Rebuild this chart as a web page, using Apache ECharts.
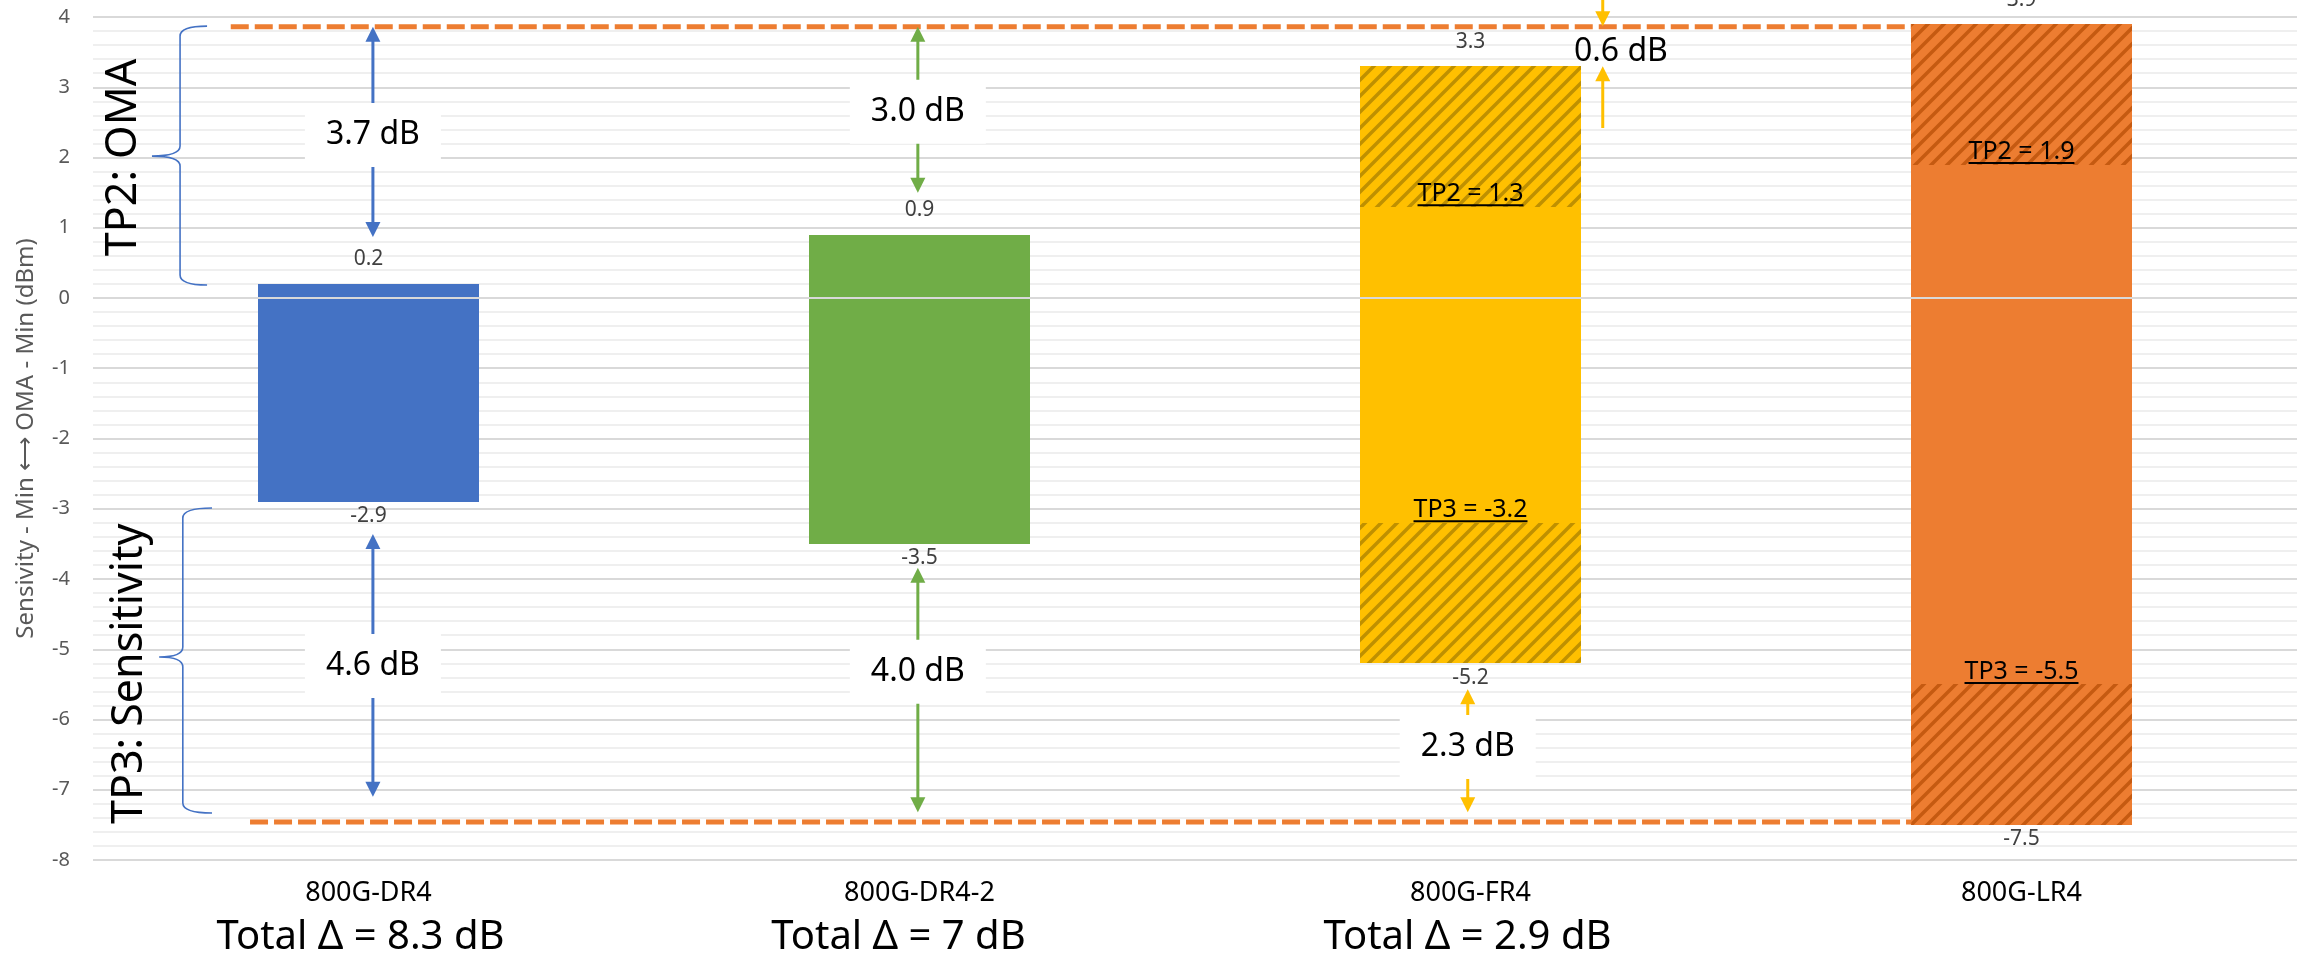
<!DOCTYPE html>
<html><head><meta charset="utf-8">
<script src="https://cdn.jsdelivr.net/npm/echarts@6/dist/echarts.min.js"></script>
<style>html,body{margin:0;padding:0;background:#fff}#c{width:2305px;height:966px}</style>
</head><body><div id="c"></div>
<script>
// ---------------- data ----------------
const categories = ['800G-DR4', '800G-DR4-2', '800G-FR4', '800G-LR4'];
const barHigh = [0.2, 0.9, 3.3, 3.9];
const barLow = [-2.9, -3.5, -5.2, -7.5];
const tp2Values = [null, null, 1.3, 1.9];
const tp3Values = [null, null, -3.2, -5.5];
const totalDelta = ['8.3', '7', '2.9', null];
const yMin = -8, yMax = 4, yInterval = 1;
// dashed reference lines: [xStart, xEnd, y]
const refLines = [[-0.25, 2.8, 3.86], [-0.215, 2.8, -7.46]];
// double-headed gap arrows: [x, topTip, bottomTip, labelY, colorIndex]
const gapArrows = [[0.008, 3.86, 0.87, 2.32, 0], [0.008, -3.36, -7.10, -5.24, 0],
                   [0.997, 3.86, 1.50, 2.65, 1], [0.997, -3.84, -7.32, -5.32, 1],
                   [1.995, -5.57, -7.32, -6.39, 2]];
const gapLabels = ['3.7 dB', '4.6 dB', '3.0 dB', '4.0 dB', '2.3 dB'];
// inward arrows: [x, outerTop, tipTop, tipBottom, outerBottom, labelX, labelY, colorIndex]
const inwardArrows = [[2.24, 4.3, 3.87, 3.30, 2.42, 2.273, 3.50, 2]];
const inwardLabels = ['0.6 dB'];
// braces: [top, bottom, mid, spineX, tipX, midX]
const braces = [[3.87, 0.185, 2.02, -0.342, -0.293, -0.393], [-2.99, -7.33, -5.11, -0.337, -0.284, -0.380]];
// side titles: [x, y]
const sideTitlePos = [[-0.445, 2.0], [-0.433, -5.35]];
const sideTitles = ['TP2: OMA', 'TP3: Sensitivity'];
const yAxisName = 'Sensivity - Min \u27F7 OMA - Min (dBm)';

// ---------------- styles ----------------
const FONT = '"Noto Sans", "Liberation Sans", sans-serif';
const barColors = ['#4472C4', '#70AD47', '#FFC000', '#ED7D31'];
const stripeColors = [null, null, '#BF9000', '#C55A11'];
const totalShift = [16, 42, 6, 0];

function hatch(bg, fg) {
  const s = 16;
  const c = document.createElement('canvas');
  c.width = s; c.height = s;
  const g = c.getContext('2d');
  g.fillStyle = bg; g.fillRect(0, 0, s, s);
  g.strokeStyle = fg; g.lineWidth = 3.5; g.beginPath();
  g.moveTo(0, s); g.lineTo(s, 0);
  g.moveTo(-s / 2, s / 2); g.lineTo(s / 2, -s / 2);
  g.moveTo(s / 2, s * 1.5); g.lineTo(s * 1.5, s / 2);
  g.stroke();
  return c;
}
const patterns = barColors.map((c, i) => stripeColors[i] ? { image: hatch(c, stripeColors[i]), repeat: 'repeat' } : null);

const mctx = document.createElement('canvas').getContext('2d');
function textWidth(t, font) { mctx.font = font; return mctx.measureText(t).width; }

// segments built from the bar data
const segments = [];
categories.forEach((c, i) => {
  if (tp2Values[i] == null) segments.push([i, barLow[i], barHigh[i], i, 0]);
  else {
    segments.push([i, barLow[i], tp3Values[i], i, 1]);
    segments.push([i, tp3Values[i], tp2Values[i], i, 0]);
    segments.push([i, tp2Values[i], barHigh[i], i, 1]);
  }
});
const valueLabelData = categories.map((c, i) => [i, barLow[i], barHigh[i]]);
const tpData = [];
categories.forEach((c, i) => { if (tp2Values[i] != null) tpData.push([i, tp2Values[i], tp3Values[i]]); });

function arrowHead(x, y, dir, color) { // dir 1 = pointing down, -1 = pointing up
  const hl = 15, hw = 7.5;
  return { type: 'polygon', shape: { points: [[x, y], [x - hw, y - dir * hl], [x + hw, y - dir * hl]] }, style: { fill: color } };
}
function vline(x, y1, y2, color) {
  return { type: 'line', shape: { x1: x, y1: y1, x2: x, y2: y2 }, style: { stroke: color, lineWidth: 3 } };
}

const chart = echarts.init(document.getElementById('c'));
chart.setOption({
  animation: false,
  backgroundColor: '#fff',
  grid: { left: 93, right: 8, top: 17, bottom: 106, containLabel: false },
  xAxis: [
    {
      type: 'category', data: categories, gridIndex: 0,
      axisLine: { show: false }, axisTick: { show: false }, splitLine: { show: false },
      axisLabel: {
        margin: 18, interval: 0,
        formatter: (v, i) => totalDelta[i] ? '{c|' + v + '}\n{t' + i + '|Total \u0394 = ' + totalDelta[i] + ' dB}' : '{c|' + v + '}',
        rich: Object.assign({ c: { fontFamily: FONT, fontSize: 27, color: '#000', lineHeight: 30 } },
          ...[0, 1, 2, 3].map(i => ({ ['t' + i]: { fontFamily: FONT, fontSize: 40, color: '#000', lineHeight: 60, padding: [0, totalShift[i], 0, 0] } })))
      }
    },
    { type: 'value', min: -0.5, max: 3.5, gridIndex: 0, show: false }
  ],
  yAxis: {
    type: 'value', min: yMin, max: yMax, interval: yInterval,
    axisLine: { show: false }, axisTick: { show: false },
    axisLabel: { fontFamily: FONT, fontSize: 20, color: '#595959', margin: 23 },
    splitLine: { show: true, lineStyle: { color: '#D9D9D9', width: 2 } },
    minorTick: { show: false, splitNumber: 5 },
    minorSplitLine: { show: true, lineStyle: { color: '#EFEFEF', width: 2 } },
    name: yAxisName, nameLocation: 'middle', nameRotate: 90, nameGap: 55,
    nameTextStyle: { fontFamily: FONT, fontSize: 24, color: '#595959' }
  },
  series: [
    { // floating bars
      type: 'custom', xAxisIndex: 1, yAxisIndex: 0, z: 2, silent: true,
      data: segments,
      renderItem: (p, api) => {
        const x = api.value(0), lo = api.value(1), hi = api.value(2), ci = api.value(3), h = api.value(4);
        const a = api.coord([x - 0.2, hi]), b = api.coord([x + 0.2, lo]);
        const x0 = Math.round(a[0]), y0 = Math.round(a[1]), x1 = Math.round(b[0]), y1 = Math.round(b[1]);
        return { type: 'rect', shape: { x: x0, y: y0, width: x1 - x0, height: y1 - y0 }, style: { fill: h ? patterns[ci] : barColors[ci] } };
      }
    },
    { // zero axis line drawn over the bars
      type: 'line', xAxisIndex: 1, yAxisIndex: 0, z: 3, silent: true, symbol: 'none',
      data: [[-0.5, 0], [3.5, 0]], lineStyle: { color: '#D9D9D9', width: 2 }
    },
    { // dashed reference lines
      type: 'custom', xAxisIndex: 1, yAxisIndex: 0, z: 3, silent: true,
      data: refLines,
      renderItem: (p, api) => {
        const a = api.coord([api.value(0), api.value(2)]), b = api.coord([api.value(1), api.value(2)]);
        return { type: 'line', shape: { x1: a[0], y1: a[1], x2: b[0], y2: b[1] }, style: { stroke: '#ED7D31', lineWidth: 5, lineDash: [18, 6] } };
      }
    },
    { // bar value labels
      type: 'custom', xAxisIndex: 1, yAxisIndex: 0, z: 4, silent: true,
      data: valueLabelData,
      renderItem: (p, api) => {
        const x = api.value(0), lo = api.value(1), hi = api.value(2);
        const t = api.coord([x, hi]), b = api.coord([x, lo]);
        const f = '21px ' + FONT;
        return { type: 'group', children: [
          { type: 'text', style: { text: hi.toFixed(1), x: t[0], y: t[1] - 14, align: 'center', verticalAlign: 'bottom', font: f, fill: '#404040' } },
          { type: 'text', style: { text: lo.toFixed(1), x: b[0], y: b[1] + 4, align: 'center', verticalAlign: 'top', font: f, fill: '#404040' } }
        ] };
      }
    },
    { // TP2 / TP3 underlined labels
      type: 'custom', xAxisIndex: 1, yAxisIndex: 0, z: 4, silent: true,
      data: tpData,
      renderItem: (p, api) => {
        const x = api.value(0), t2 = api.value(1), t3 = api.value(2);
        const f = '25px ' + FONT;
        const kids = [];
        [['TP2 = ' + t2.toFixed(1), t2], ['TP3 = ' + t3.toFixed(1), t3]].forEach(([txt, v]) => {
          const c = api.coord([x, v]);
          const w = textWidth(txt, f);
          kids.push({ type: 'text', style: { text: txt, x: c[0], y: c[1] - 13, align: 'center', verticalAlign: 'middle', font: f, fill: '#000' } });
          kids.push({ type: 'line', shape: { x1: c[0] - w / 2, y1: c[1] - 1.5, x2: c[0] + w / 2, y2: c[1] - 1.5 }, style: { stroke: '#000', lineWidth: 2 } });
        });
        return { type: 'group', children: kids };
      }
    },
    { // double headed gap arrows with boxed labels
      type: 'custom', xAxisIndex: 1, yAxisIndex: 0, z: 5, silent: true,
      data: gapArrows,
      renderItem: (p, api) => {
        const x = api.value(0), col = barColors[api.value(4)];
        const t = api.coord([x, api.value(1)]), b = api.coord([x, api.value(2)]), l = api.coord([x, api.value(3)]);
        return { type: 'group', children: [
          vline(t[0], t[1] + 12, b[1] - 12, col),
          arrowHead(t[0], t[1], -1, col),
          arrowHead(b[0], b[1], 1, col),
          { type: 'text', z2: 10, style: { text: gapLabels[p.dataIndex], x: l[0], y: l[1], align: 'center', verticalAlign: 'middle', font: '32px ' + FONT, fill: '#000', backgroundColor: '#fff', padding: [14, 21], lineHeight: 36 } }
        ] };
      }
    },
    { // inward arrows (0.6 dB)
      type: 'custom', xAxisIndex: 1, yAxisIndex: 0, z: 5, silent: true,
      data: inwardArrows,
      renderItem: (p, api) => {
        const x = api.value(0), col = barColors[api.value(7)];
        const o1 = api.coord([x, api.value(1)]), t1 = api.coord([x, api.value(2)]);
        const t2 = api.coord([x, api.value(3)]), o2 = api.coord([x, api.value(4)]);
        const l = api.coord([api.value(5), api.value(6)]);
        return { type: 'group', children: [
          vline(o1[0], o1[1], t1[1] - 12, col), arrowHead(t1[0], t1[1], 1, col),
          vline(o2[0], o2[1], t2[1] + 12, col), arrowHead(t2[0], t2[1], -1, col),
          { type: 'text', style: { text: inwardLabels[p.dataIndex], x: l[0], y: l[1], align: 'center', verticalAlign: 'middle', font: '32px ' + FONT, fill: '#000' } }
        ] };
      }
    },
    { // braces
      type: 'custom', xAxisIndex: 1, yAxisIndex: 0, z: 4, silent: true,
      data: braces,
      renderItem: (p, api) => {
        const top = api.value(0), bot = api.value(1), mid = api.value(2);
        const sx = api.coord([api.value(3), 0])[0], tx = api.coord([api.value(4), 0])[0], mx = api.coord([api.value(5), 0])[0];
        const yt = api.coord([0, top])[1], yb = api.coord([0, bot])[1], ym = api.coord([0, mid])[1];
        const r = 10;
        const d = 'M' + tx + ',' + yt + ' Q' + sx + ',' + yt + ' ' + sx + ',' + (yt + r) +
          ' L' + sx + ',' + (ym - r) + ' Q' + sx + ',' + ym + ' ' + mx + ',' + ym +
          ' Q' + sx + ',' + ym + ' ' + sx + ',' + (ym + r) +
          ' L' + sx + ',' + (yb - r) + ' Q' + sx + ',' + yb + ' ' + tx + ',' + yb;
        return { type: 'path', shape: { pathData: d }, style: { fill: null, stroke: '#4472C4', lineWidth: 1.6 } };
      }
    },
    { // rotated side titles
      type: 'custom', xAxisIndex: 1, yAxisIndex: 0, z: 4, silent: true,
      data: sideTitlePos,
      renderItem: (p, api) => {
        const c = api.coord([api.value(0), api.value(1)]);
        return { type: 'text', x: c[0], y: c[1], rotation: Math.PI / 2,
          style: { text: sideTitles[p.dataIndex], x: 0, y: 0, align: 'center', verticalAlign: 'middle', font: '43px ' + FONT, fill: '#000' } };
      }
    }
  ]
});
</script></body></html>
